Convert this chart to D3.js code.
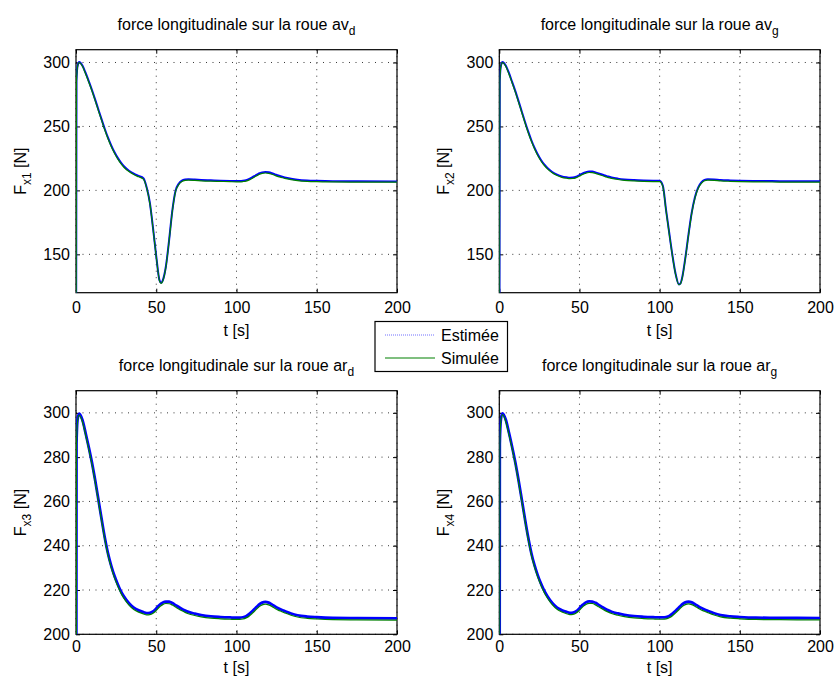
<!DOCTYPE html>
<html>
<head>
<meta charset="utf-8">
<script src="https://cdn.jsdelivr.net/npm/d3@7"></script>
<style>
  body { margin: 0; background: #fff; }
  svg { display: block; }
  text { font-family: "Liberation Sans", Arial, Helvetica, sans-serif; fill: #000; }
</style>
</head>
<body>
<svg id="fig" width="835" height="679"></svg>
<script>
// Temps de simulation [s]
const temps = [
  0, 0.3, 1, 2, 4, 6, 8, 10, 12, 14,
  16, 18, 20, 22, 24, 26, 28, 30, 33, 36,
  39, 42, 44, 46, 48, 50, 52, 53, 54, 56,
  58, 60, 62, 64, 66, 68, 70, 74, 78, 84,
  90, 96, 100, 102, 104, 106, 108, 110, 112, 113,
  114, 116, 118, 120, 122, 124, 126, 128, 130, 134,
  138, 144, 150, 160, 175, 200
];

// Roue avant droite
const fx1Simulee = [
  0, 285, 297, 300, 297, 291, 284.5, 277.5, 270, 262.2,
  254.5, 247, 240.2, 234.2, 229, 224.6, 220.9, 217.9, 214.7, 212.4,
  210.6, 208.8, 202, 190, 170, 148, 129.5, 127.3, 129, 140,
  160.5, 183.5, 199, 204.5, 207, 207.8, 208, 207.8, 207.5, 207.2,
  207, 206.8, 206.7, 206.7, 206.9, 207.3, 208.2, 209.5, 211, 211.7,
  212.4, 213.3, 213.6, 213.3, 212.6, 211.7, 210.8, 210.1, 209.4, 208.4,
  207.7, 207.1, 206.8, 206.6, 206.5, 206.4
];
const fx1Estimee = [
  0, 286, 297.5, 300.3, 297.6, 291.8, 285.3, 278.3, 270.8, 263,
  255.3, 247.8, 241, 235, 229.8, 225.4, 221.7, 218.7, 215.4, 213.1,
  211.3, 209.5, 202.5, 190.5, 170.5, 148.5, 129.8, 127.8, 129.5, 140.5,
  161, 184, 199.6, 205.2, 207.7, 208.5, 208.7, 208.5, 208.2, 207.9,
  207.6, 207.4, 207.3, 207.3, 207.5, 208, 209, 210.3, 211.8, 212.5,
  213.2, 214.1, 214.4, 214.1, 213.4, 212.5, 211.6, 210.8, 210.1, 209.1,
  208.4, 207.8, 207.5, 207.2, 207.1, 207
];

// Roue avant gauche
const fx2Simulee = [
  0, 285, 297, 300, 297, 291, 284, 276.8, 269, 260.9,
  252.9, 245.3, 238.4, 232.4, 227.3, 223, 219.5, 216.8, 213.7, 211.6,
  210.2, 209.5, 209.2, 209.3, 210, 211.2, 212.5, 213, 213.5, 214,
  213.9, 213.3, 212.5, 211.6, 210.8, 210, 209.4, 208.5, 207.9, 207.4,
  207.1, 206.9, 206.8, 203, 184, 166, 148.5, 134, 126.2, 127,
  131, 146.5, 165, 182, 194, 201.5, 205.5, 207.5, 208, 207.8,
  207.4, 207.1, 206.9, 206.7, 206.5, 206.4
];
const fx2Estimee = [
  0, 286, 297.5, 300.3, 297.6, 291.8, 284.8, 277.6, 269.8, 261.7,
  253.7, 246.1, 239.2, 233.2, 228.1, 223.8, 220.3, 217.6, 214.4, 212.3,
  210.9, 210.2, 209.9, 210, 210.7, 212, 213.3, 213.8, 214.3, 214.8,
  214.7, 214.1, 213.3, 212.4, 211.6, 210.8, 210.1, 209.2, 208.6, 208.1,
  207.8, 207.6, 207.5, 203.6, 184.6, 166.5, 149, 134.4, 126.5, 127.3,
  131.5, 147, 165.6, 182.6, 194.7, 202.2, 206.2, 208.2, 208.7, 208.5,
  208.1, 207.8, 207.6, 207.4, 207.2, 207.1
];

// Roue arrière droite
const fx3Simulee = [
  0, 285, 296.5, 299, 296, 290, 283.5, 276.5, 268.5, 259.8,
  251, 242.6, 235.5, 230, 225.5, 221.8, 218.6, 216.1, 213.2, 211.2,
  210, 209.2, 208.8, 208.9, 209.5, 210.8, 212.3, 212.9, 213.4, 213.9,
  213.8, 213.2, 212.3, 211.4, 210.6, 209.9, 209.3, 208.5, 207.9, 207.3,
  207, 206.8, 206.7, 206.7, 206.9, 207.4, 208.3, 209.6, 211, 211.7,
  212.4, 213.3, 213.6, 213.3, 212.6, 211.7, 210.9, 210.3, 209.7, 208.6,
  207.8, 207.2, 206.9, 206.6, 206.5, 206.4
];
const fx3Estimee = [
  0, 286, 297.2, 299.6, 296.8, 290.8, 284.3, 277.3, 269.3, 260.6,
  251.8, 243.4, 236.3, 230.8, 226.3, 222.6, 219.4, 216.9, 214, 212,
  210.8, 210, 209.6, 209.7, 210.3, 211.7, 213.2, 213.8, 214.3, 214.8,
  214.7, 214.1, 213.2, 212.3, 211.4, 210.7, 210.1, 209.3, 208.7, 208.1,
  207.8, 207.6, 207.5, 207.5, 207.7, 208.2, 209.2, 210.5, 212, 212.7,
  213.4, 214.3, 214.6, 214.3, 213.5, 212.6, 211.8, 211.1, 210.5, 209.4,
  208.6, 208, 207.7, 207.4, 207.3, 207.2
];

// Roue arrière gauche
const fx4Simulee = [
  0, 285, 296.5, 299.2, 296.2, 290.3, 283.8, 276.8, 268.8, 260.1,
  251.3, 243, 235.8, 230.3, 225.8, 222.1, 218.9, 216.4, 213.4, 211.3,
  210.1, 209.3, 208.9, 209, 209.6, 210.9, 212.4, 213, 213.5, 214,
  213.9, 213.3, 212.4, 211.5, 210.7, 210, 209.4, 208.6, 208, 207.4,
  207.1, 206.9, 206.8, 206.8, 207, 207.5, 208.4, 209.7, 211.1, 211.8,
  212.5, 213.4, 213.7, 213.4, 212.7, 211.8, 211, 210.4, 209.8, 208.7,
  207.9, 207.3, 207, 206.7, 206.6, 206.5
];
const fx4Estimee = [
  0, 286, 297.2, 299.8, 297, 291.1, 284.6, 277.6, 269.6, 260.9,
  252.1, 243.8, 236.6, 231.1, 226.6, 222.9, 219.7, 217.2, 214.2, 212.1,
  210.9, 210.1, 209.7, 209.8, 210.4, 211.8, 213.3, 213.9, 214.4, 214.9,
  214.8, 214.2, 213.3, 212.4, 211.5, 210.8, 210.2, 209.4, 208.8, 208.2,
  207.9, 207.7, 207.6, 207.6, 207.8, 208.3, 209.3, 210.6, 212.1, 212.8,
  213.5, 214.4, 214.7, 214.4, 213.6, 212.7, 211.9, 211.2, 210.6, 209.5,
  208.7, 208.1, 207.8, 207.5, 207.4, 207.3
];

// Graduations
const xTicks = [0, 50, 100, 150, 200];
const yTicksAvant = [150, 200, 250, 300];
const yTicksArriere = [200, 220, 240, 260, 280, 300];
const yDomaineAvant = [120, 310];
const yDomaineArriere = [200, 310];
const xDomaine = [0, 200];

// Libellés
const roues = ["av", "av", "ar", "ar"];
const cotes = ["d", "g", "d", "g"];
const indices = ["x1", "x2", "x3", "x4"];
const legendeNoms = ["Estimée", "Simulée"];

// Mise en page des quatre axes
const cadres = [
  { left: 76,    top: 49.7,  width: 321,   height: 243,   pad: 9, lab: 34 },
  { left: 499.3, top: 49.7,  width: 320.7, height: 243,   pad: 9, lab: 34 },
  { left: 76,    top: 390.7, width: 321,   height: 243.6, pad: 6, lab: 33 },
  { left: 499.3, top: 390.7, width: 320.7, height: 243.6, pad: 6, lab: 33 }
];

const series = [
  { sim: fx1Simulee, est: fx1Estimee, dom: yDomaineAvant, ticks: yTicksAvant },
  { sim: fx2Simulee, est: fx2Estimee, dom: yDomaineAvant, ticks: yTicksAvant },
  { sim: fx3Simulee, est: fx3Estimee, dom: yDomaineArriere, ticks: yTicksArriere },
  { sim: fx4Simulee, est: fx4Estimee, dom: yDomaineArriere, ticks: yTicksArriere }
];

const couleurEst = "#0000ff";
const couleurSim = "#008000";
const svg = d3.select("#fig");
svg.append("rect").attr("width", 835).attr("height", 679).attr("fill", "#fff");

series.forEach((s, i) => {
  const c = cadres[i];
  const x = d3.scaleLinear().domain(xDomaine).range([0, c.width]);
  const y = d3.scaleLinear().domain(s.dom).range([c.height, 0]);
  const g = svg.append("g").attr("transform", `translate(${c.left},${c.top})`);

  g.append("clipPath").attr("id", "clip" + i)
    .append("rect").attr("width", c.width).attr("height", c.height);

  // grille pointillée
  const grille = g.append("g").attr("stroke", "#222").attr("stroke-width", 0.9)
    .attr("stroke-dasharray", "1,5.5");
  grille.selectAll("line.gx").data(xTicks).join("line")
    .attr("x1", d => x(d)).attr("x2", d => x(d))
    .attr("y1", 0).attr("y2", c.height);
  grille.selectAll("line.gy").data(s.ticks).join("line")
    .attr("class", "gy")
    .attr("x1", 0).attr("x2", c.width)
    .attr("y1", d => y(d)).attr("y2", d => y(d));

  // axes avec graduations intérieures
  const styleAxe = sel => {
    sel.select(".domain").remove();
    sel.selectAll(".tick line").attr("stroke", "#000").attr("stroke-width", 1);
    sel.selectAll("text").style("font-size", "16px")
      .style("font-family", '"Liberation Sans", Arial, Helvetica, sans-serif')
      .attr("fill", "#000");
  };
  g.append("g").attr("transform", `translate(0,${c.height})`)
    .call(d3.axisBottom(x).tickValues(xTicks).tickSize(-4).tickPadding(c.pad).tickFormat(d3.format("d")))
    .call(styleAxe);
  g.append("g")
    .call(d3.axisTop(x).tickValues(xTicks).tickSize(-4).tickFormat(""))
    .call(styleAxe);
  g.append("g")
    .call(d3.axisLeft(y).tickValues(s.ticks).tickSize(-4).tickPadding(6).tickFormat(d3.format("d")))
    .call(styleAxe);
  g.append("g").attr("transform", `translate(${c.width},0)`)
    .call(d3.axisRight(y).tickValues(s.ticks).tickSize(-4).tickFormat(""))
    .call(styleAxe);

  g.append("rect").attr("width", c.width).attr("height", c.height)
    .attr("fill", "none").attr("stroke", "#000").attr("stroke-width", 1.2);

  // courbes : estimation bruitée en dessous, simulation par-dessus
  const ligne = vals => d3.line()
    .x((d, k) => x(temps[k]))
    .y(d => y(d))
    .curve(d3.curveMonotoneX)(vals);
  const courbes = g.append("g").attr("clip-path", `url(#clip${i})`);
  courbes.append("path").attr("d", ligne(s.est))
    .attr("fill", "none").attr("stroke", couleurEst)
    .attr("stroke-width", i < 2 ? 2 : 2.8)
    .attr("stroke-linejoin", "round");
  courbes.append("path").attr("d", ligne(s.sim))
    .attr("fill", "none").attr("stroke", couleurSim).attr("stroke-width", 1.2);

  // titre
  const titre = g.append("text").attr("x", c.width / 2).attr("y", -19.7)
    .attr("text-anchor", "middle").style("font-size", "16px");
  titre.append("tspan").text("force longitudinale sur la roue " + roues[i]);
  titre.append("tspan").attr("dy", 5).style("font-size", "12px").text(cotes[i]);

  // abscisse
  g.append("text").attr("x", c.width / 2).attr("y", c.height + c.pad + c.lab)
    .attr("text-anchor", "middle").style("font-size", "16px").text("t [s]");

  // ordonnée
  const yl = g.append("text")
    .attr("transform", `translate(-50.5,${c.height / 2}) rotate(-90)`)
    .attr("text-anchor", "middle").style("font-size", "16px");
  yl.append("tspan").text("F");
  yl.append("tspan").attr("dy", 5).style("font-size", "12px").text(indices[i]);
  yl.append("tspan").attr("dy", -5).text(" [N]");
});

// légende
const leg = svg.append("g").attr("transform", "translate(375,321.5)");
leg.append("rect").attr("width", 132.5).attr("height", 50)
  .attr("fill", "#fff").attr("stroke", "#000").attr("stroke-width", 1.2);
const styles = [
  { couleur: "#3333ff", dash: "1,1", largeur: 1, opacite: 0.7 },
  { couleur: couleurSim, dash: null, largeur: 1.2, opacite: 1 }
];
legendeNoms.forEach((nom, k) => {
  const yy = 13.5 + k * 23;
  leg.append("line").attr("x1", 10).attr("x2", 60).attr("y1", yy).attr("y2", yy)
    .attr("stroke", styles[k].couleur).attr("stroke-width", styles[k].largeur)
    .attr("stroke-opacity", styles[k].opacite)
    .attr("stroke-dasharray", styles[k].dash);
  leg.append("text").attr("x", 66).attr("y", yy).attr("dy", "0.36em")
    .style("font-size", "16px").text(nom);
});
</script>
</body>
</html>
